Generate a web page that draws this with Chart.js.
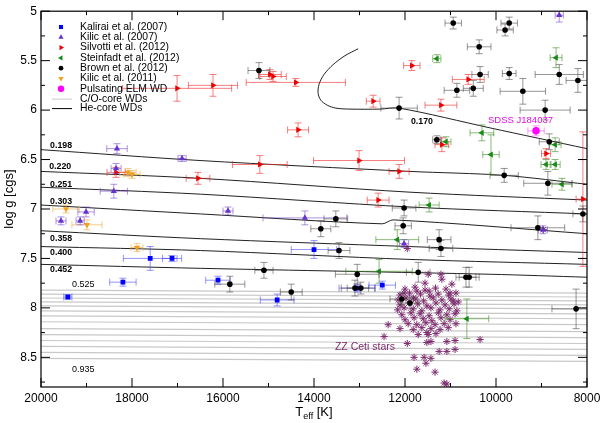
<!DOCTYPE html>
<html><head><meta charset="utf-8">
<script src="https://cdn.jsdelivr.net/npm/chart.js@4/dist/chart.umd.min.js"></script>
<style>html,body{margin:0;padding:0;background:#fff}#wrap{width:600px;height:423px;position:relative}</style>
</head><body><div id="wrap"><canvas id="c" width="600" height="423"></canvas></div>
<script>
const FONT = "'Liberation Sans', Arial, Helvetica, sans-serif";
const xTicks = [8000, 10000, 12000, 14000, 16000, 18000, 20000];
const yTicks = [5, 5.5, 6, 6.5, 7, 7.5, 8, 8.5];

// [Teff, log g, dTeff, dlog g]
const kalirai = [[19410,7.89,90,0.02],[18200,7.74,290,0.04],[17600,7.50,590,0.12],[17120,7.50,210,0.03],[16110,7.72,270,0.04],[14810,7.92,370,0.06],[14000,7.41,500,0.09],[12500,7.77,290,0.04],[13050,7.80,400,0.04]];
const kilic07 = [[18330,6.39,225,0.05],[16900,6.49,90,0.03],[18350,6.59,110,0.05],[18400,6.82,300,0.07],[15890,7.02,110,0.04],[19010,7.03,180,0.05],[19560,7.12,110,0.04],[19140,7.12,90,0.04],[14200,7.09,920,0.07],[12020,7.35,100,0.04],[8970,7.21,100,0.04],[8610,5.04,90,0.07]];
const silvotti = [[17010,5.78,1200,0.13],[16220,5.75,540,0.11],[14900,5.66,290,0.05],[14970,5.64,250,0.05],[14400,5.72,1090,0.04],[14350,6.20,230,0.07],[11850,5.55,180,0.05],[12700,5.91,150,0.06],[11210,5.95,350,0.06],[10610,5.69,350,0.05],[15190,6.55,600,0.09],[13010,6.51,1000,0.10],[12130,6.62,220,0.07],[12590,6.91,240,0.07],[16550,6.69,260,0.06],[18350,6.63,200,0.05],[11190,6.35,150,0.07],[8900,6.44,100,0.05],[8090,6.90,150,0.68]];
const steinfadt = [[11300,5.48,90,0.04],[8680,5.47,130,0.10],[10310,6.23,260,0.08],[10110,6.45,180,0.20],[11100,6.32,110,0.05],[8700,6.35,130,0.07],[8900,6.55,110,0.05],[8700,6.55,110,0.05],[8550,6.75,220,0.06],[11470,6.96,220,0.07],[12170,7.31,470,0.10],[12570,7.63,730,0.12],[10640,8.11,480,0.20]];
const brown = [[15210,5.60,240,0.08],[12130,5.98,400,0.11],[10940,5.12,180,0.06],[9710,5.12,180,0.06],[9800,5.19,180,0.06],[10370,5.36,260,0.07],[10350,5.64,180,0.08],[9710,5.63,150,0.06],[10860,5.80,280,0.07],[10500,5.78,220,0.08],[9410,5.81,500,0.13],[8610,5.64,530,0.10],[8200,5.70,260,0.12],[8920,6.00,550,0.10],[11300,6.30,90,0.04],[8830,6.32,220,0.08],[9820,6.66,310,0.07],[8860,6.74,530,0.12],[8090,7.05,220,0.08],[12020,6.99,260,0.08],[12040,7.17,180,0.08],[9080,7.19,590,0.12],[11250,7.31,260,0.10],[11210,7.40,260,0.08],[13520,7.10,260,0.08],[13850,7.20,220,0.08],[13450,7.42,240,0.08],[15100,7.62,200,0.08],[15850,7.76,330,0.08],[14500,7.84,240,0.08],[13050,7.66,480,0.10],[13100,7.80,300,0.08],[12970,7.80,300,0.06],[11710,7.64,260,0.10],[12070,7.91,260,0.06],[11890,7.95,200,0.06],[10660,7.69,220,0.10],[10590,7.69,220,0.10],[8240,8.01,530,0.20]];
const kilic11 = [[18090,6.63,180,0.04],[18000,6.65,180,0.04],[19450,7.00,290,0.04],[18990,7.16,330,0.05],[17890,7.39,130,0.04]];
const pulsatingELM = [[9120,6.21,180,0.05]];
const zzCeti = [[11490,7.66],[11210,7.66],[11190,7.71],[10970,7.76],[11010,7.85],[10940,7.93],[11470,7.83],[11740,7.83],[11820,7.90],[12020,7.85],[11560,7.75],
[12370,8.17],[12110,8.21],[12460,8.29],[11950,8.36],[11800,8.50],[11580,8.50],[11430,8.51],[11740,8.62],[11540,8.56],[11340,8.65],[11140,8.76],[11080,8.77],
[10350,8.32],[10900,8.33],[11080,8.34],[10900,8.42],[11080,8.44],[11250,8.44],[11430,8.34],[11490,8.27],[11520,8.35],[10880,8.16],
[12000,7.81],[11780,7.79],[11560,7.82],[11330,7.80],[11100,7.81],
[12110,7.87],[11900,7.85],[11660,7.86],[11450,7.88],[11270,7.86],[11040,7.87],[10880,7.85],
[12150,7.92],[11980,7.90],[11760,7.91],[11590,7.93],[11380,7.90],[11190,7.92],[10990,7.91],[10830,7.94],
[12110,7.97],[11910,7.95],[11720,7.96],[11520,7.98],[11320,7.95],[11120,7.97],[10920,7.96],
[12160,8.02],[12020,8.00],[11820,8.01],[11630,8.03],[11430,8.00],[11230,8.02],[11030,8.01],[10860,8.03],
[12070,8.07],[11870,8.05],[11670,8.06],[11470,8.08],[11270,8.05],[11080,8.07],[10900,8.06],
[12000,8.12],[11800,8.10],[11600,8.11],[11410,8.13],[11210,8.10],[11010,8.12],
[11930,8.16],[11740,8.17],[11540,8.15],[11340,8.17],[11140,8.16],
[11820,8.22],[11630,8.20],[11430,8.21],[11230,8.22],[11050,8.20],
[11710,8.27],[11520,8.25],[11320,8.26],
[11950,7.40],[8960,7.21]];

// He-core cooling tracks [Teff, log g]
const track0170 = [[13030,5.38],[13320,5.45],[13580,5.54],[13780,5.64],[13890,5.74],[13910,5.83],[13850,5.90],[13710,5.95],[13520,5.98],[13210,5.99],[12550,5.99],[12130,5.98],[10130,6.18],[8000,6.39]];
const track0198 = [[20000,6.40],[16505,6.51],[11890,6.62],[9820,6.66],[8000,6.75]];
const track0220 = [[20000,6.62],[16500,6.69],[11890,6.83],[8000,6.91]];
const track0251 = [[20000,6.78],[16500,6.85],[11890,6.98],[8000,7.05]];
const track0303 = [[20000,6.96],[16500,7.05],[12500,7.15],[12260,7.11],[8000,7.25]];
const track0358 = [[20000,7.22],[16500,7.30],[11890,7.38],[8000,7.44]];
const track0400 = [[20000,7.38],[16500,7.42],[11890,7.51],[8000,7.56]];
const track0452 = [[20000,7.56],[16500,7.60],[10130,7.66],[8000,7.69]];
// C/O-core tracks: log g at 20000 K and at 8000 K
const coTrackHot = [7.82,7.86,7.90,7.94,7.98,8.03,8.08,8.14,8.21,8.27,8.33,8.39,8.45,8.51];
const coTrackCool = [7.85,7.89,7.93,7.97,8.01,8.06,8.11,8.17,8.24,8.30,8.36,8.42,8.48,8.54];

// text annotations [text, Teff, log g]
const heLabels = [['0.170',11870,6.12],['0.198',19800,6.36],['0.220',19820,6.57],['0.251',19800,6.75],['0.303',19800,6.92],['0.358',19800,7.30],['0.400',19800,7.44],['0.452',19800,7.61]];
const coLabels = [['0.525',19320,7.76],['0.935',19320,8.62]];
const elmLabel = ['SDSS J184037',10175,6.10];
const zzLabel = ['ZZ Ceti stars',13540,8.40];

const toPts = a => a.map(r => ({x:r[0], y:r[1], dx:r[2]||0, dy:r[3]||0}));
function series(label, arr, color, errColor, style, rot, radius, order) {
  return {label, data: toPts(arr), showLine:false, pointStyle:style, rotation:rot, pointRotation:rot,
    pointRadius:radius, pointHoverRadius:radius, backgroundColor:color, borderColor:color, pointBorderWidth:style==='star'?1:0,
    errColor, legend:true, order};
}
function track(arr, color) {
  return {data: arr.map(r => ({x:r[0], y:r[1]})), showLine:true, borderColor:color, borderWidth:1, pointRadius:0, tension:0.3, order:20, legend:false};
}
const datasets = [];
datasets.push(series('Kalirai et al. (2007)', kalirai, '#0000ff', 'rgba(60,60,255,0.55)', 'rect', 0, 3.4, 2));
datasets.push(series('Kilic et al. (2007)', kilic07, '#6633cc', 'rgba(110,60,200,0.55)', 'triangle', 0, 3.6, 2));
datasets.push(series('Silvotti et al. (2012)', silvotti, '#ee0000', 'rgba(240,40,40,0.6)', 'triangle', 90, 3.6, 2));
datasets.push(series('Steinfadt et al. (2012)', steinfadt, '#178a17', 'rgba(60,140,30,0.6)', 'triangle', -90, 3.6, 2));
datasets.push(series('Brown et al. (2012)', brown, '#000000', 'rgba(70,60,60,0.55)', 'circle', 0, 2.8, 1));
datasets.push(series('Kilic et al. (2011)', kilic11, '#f0a020', 'rgba(240,170,60,0.6)', 'triangle', 180, 3.6, 2));
datasets.push(series('Pulsating ELM WD', pulsatingELM, '#ff00ff', 'rgba(255,80,255,0.6)', 'circle', 0, 3.8, 1));
const zz = series('ZZ Ceti', zzCeti, '#7d2b6f', null, 'star', 0, 3.6, 3);
zz.legend = false; zz.borderWidth = 1; zz.pointBorderWidth = 1;
datasets.push(zz);
[track0170, track0198, track0220, track0251, track0303, track0358, track0400, track0452].forEach(t => datasets.push(track(t, '#222')));
coTrackHot.forEach((g, i) => { const d = track([[20000, g], [8000, coTrackCool[i]]], '#c8c8c8'); d.order = 25; d.tension = 0; d.borderWidth = 1.2; datasets.push(d); });

const errorBars = {
  id: 'errorBars',
  beforeDatasetDraw(chart, args) {
    const ds = chart.data.datasets[args.index];
    if (!ds.errColor) return;
    const xs = chart.scales.x, ys = chart.scales.y, ctx = chart.ctx, a = chart.chartArea;
    ctx.save();
    ctx.beginPath(); ctx.rect(a.left, a.top, a.right - a.left, a.bottom - a.top); ctx.clip();
    ctx.strokeStyle = ds.errColor; ctx.lineWidth = 1;
    const cap = 3.5;
    ds.data.forEach(p => {
      const px = xs.getPixelForValue(p.x), py = ys.getPixelForValue(p.y);
      const x1 = xs.getPixelForValue(p.x - p.dx), x2 = xs.getPixelForValue(p.x + p.dx);
      const y1 = ys.getPixelForValue(p.y - p.dy), y2 = ys.getPixelForValue(p.y + p.dy);
      ctx.beginPath();
      ctx.moveTo(x1, py); ctx.lineTo(x2, py);
      ctx.moveTo(x1, py - cap); ctx.lineTo(x1, py + cap);
      ctx.moveTo(x2, py - cap); ctx.lineTo(x2, py + cap);
      ctx.moveTo(px, y1); ctx.lineTo(px, y2);
      ctx.moveTo(px - cap, y1); ctx.lineTo(px + cap, y1);
      ctx.moveTo(px - cap, y2); ctx.lineTo(px + cap, y2);
      ctx.stroke();
    });
    ctx.restore();
  }
};

const decor = {
  id: 'decor',
  afterDraw(chart) {
    const ctx = chart.ctx, a = chart.chartArea, xs = chart.scales.x, ys = chart.scales.y;
    ctx.save();
    // frame
    ctx.strokeStyle = '#000'; ctx.lineWidth = 1.2;
    ctx.strokeRect(a.left, a.top, a.right - a.left, a.bottom - a.top);
    ctx.lineWidth = 1;
    ctx.beginPath();
    for (let t = 8000; t <= 20000; t += 1000) {
      const x = xs.getPixelForValue(t), L = (t % 2000 === 0) ? 9 : 4;
      ctx.moveTo(x, a.bottom); ctx.lineTo(x, a.bottom - L);
      ctx.moveTo(x, a.top); ctx.lineTo(x, a.top + L);
    }
    for (let g = 5; g <= 8.76; g += 0.25) {
      const y = ys.getPixelForValue(g), L = (Math.abs(g * 2 - Math.round(g * 2)) < 1e-6) ? 9 : 4;
      ctx.moveTo(a.left, y); ctx.lineTo(a.left + L, y);
      ctx.moveTo(a.right, y); ctx.lineTo(a.right - L, y);
    }
    ctx.stroke();
    // track labels
    ctx.textBaseline = 'middle'; ctx.textAlign = 'left';
    ctx.fillStyle = '#000';
    ctx.font = 'bold 8.8px ' + FONT;
    heLabels.forEach(l => ctx.fillText(l[0], xs.getPixelForValue(l[1]), ys.getPixelForValue(l[2])));
    ctx.font = '9px ' + FONT;
    coLabels.forEach(l => ctx.fillText(l[0], xs.getPixelForValue(l[1]), ys.getPixelForValue(l[2])));
    ctx.fillStyle = '#e010e0'; ctx.font = '9.5px ' + FONT;
    ctx.fillText(elmLabel[0], xs.getPixelForValue(elmLabel[1]), ys.getPixelForValue(elmLabel[2]));
    ctx.fillStyle = '#7d2b6f'; ctx.font = '10.5px ' + FONT;
    ctx.fillText(zzLabel[0], xs.getPixelForValue(zzLabel[1]), ys.getPixelForValue(zzLabel[2]));
    // legend
    const lx = 61, tx = 80;
    let ly = 27;
    ctx.font = '10.4px ' + FONT;
    chart.data.datasets.filter(d => d.legend).forEach(d => {
      ctx.fillStyle = d.backgroundColor; ctx.strokeStyle = d.backgroundColor;
      Chart.helpers.drawPoint(ctx, {pointStyle: d.pointStyle, rotation: d.pointRotation, radius: d.pointRadius * 0.85, borderWidth: 0}, lx, ly);
      ctx.fillStyle = '#000';
      ctx.fillText(d.label, tx, ly);
      ly += 10.3;
    });
    ctx.lineWidth = 1;
    ctx.strokeStyle = '#c8c8c8'; ctx.beginPath(); ctx.moveTo(52, ly); ctx.lineTo(72, ly); ctx.stroke();
    ctx.fillStyle = '#000'; ctx.fillText('C/O-core WDs', tx, ly); ly += 9.5;
    ctx.strokeStyle = '#000'; ctx.beginPath(); ctx.moveTo(52, ly); ctx.lineTo(72, ly); ctx.stroke();
    ctx.fillText('He-core WDs', tx, ly);
    // x title with subscript
    ctx.fillStyle = '#000';
    const f1 = '13px ' + FONT, f2 = '9px ' + FONT;
    ctx.font = f1; const wT = ctx.measureText('T').width, wK = ctx.measureText(' [K]').width;
    ctx.font = f2; const wE = ctx.measureText('eff').width;
    let x0 = (a.left + a.right) / 2 - (wT + wE + wK) / 2;
    const yb = 416;
    ctx.textBaseline = 'alphabetic';
    ctx.font = f1; ctx.fillText('T', x0, yb);
    ctx.font = f2; ctx.fillText('eff', x0 + wT, yb + 3);
    ctx.font = f1; ctx.fillText(' [K]', x0 + wT + wE, yb);
    ctx.restore();
  }
};

new Chart(document.getElementById('c'), {
  type: 'scatter',
  data: { datasets },
  options: {
    responsive: false, animation: false, devicePixelRatio: 1,
    layout: { padding: { top: 7, right: 13, left: 0, bottom: 0 } },
    plugins: { legend: { display: false }, tooltip: { enabled: false } },
    scales: {
      x: {
        type: 'linear', min: 8000, max: 20000, reverse: true, position: 'bottom',
        grid: { display: false, drawTicks: false }, border: { display: false },
        afterBuildTicks: s => { s.ticks = xTicks.map(v => ({ value: v })); },
        ticks: { callback: v => String(v), font: { family: FONT, size: 12 }, color: '#000', padding: 4, maxRotation: 0, autoSkip: false },
        afterFit: s => { s.height = 36; }
      },
      y: {
        type: 'linear', min: 5, max: 8.8, reverse: true, position: 'left',
        grid: { display: false, drawTicks: false }, border: { display: false },
        afterBuildTicks: s => { s.ticks = yTicks.map(v => ({ value: v })); },
        ticks: { callback: v => String(v), font: { family: FONT, size: 12 }, color: '#000', padding: 4, autoSkip: false },
        title: { display: true, text: 'log g [cgs]', font: { family: FONT, size: 13 }, color: '#000', padding: { top: 2, bottom: 0 } },
        afterFit: s => { s.width = 41; }
      }
    }
  },
  plugins: [errorBars, decor]
});
</script></body></html>
